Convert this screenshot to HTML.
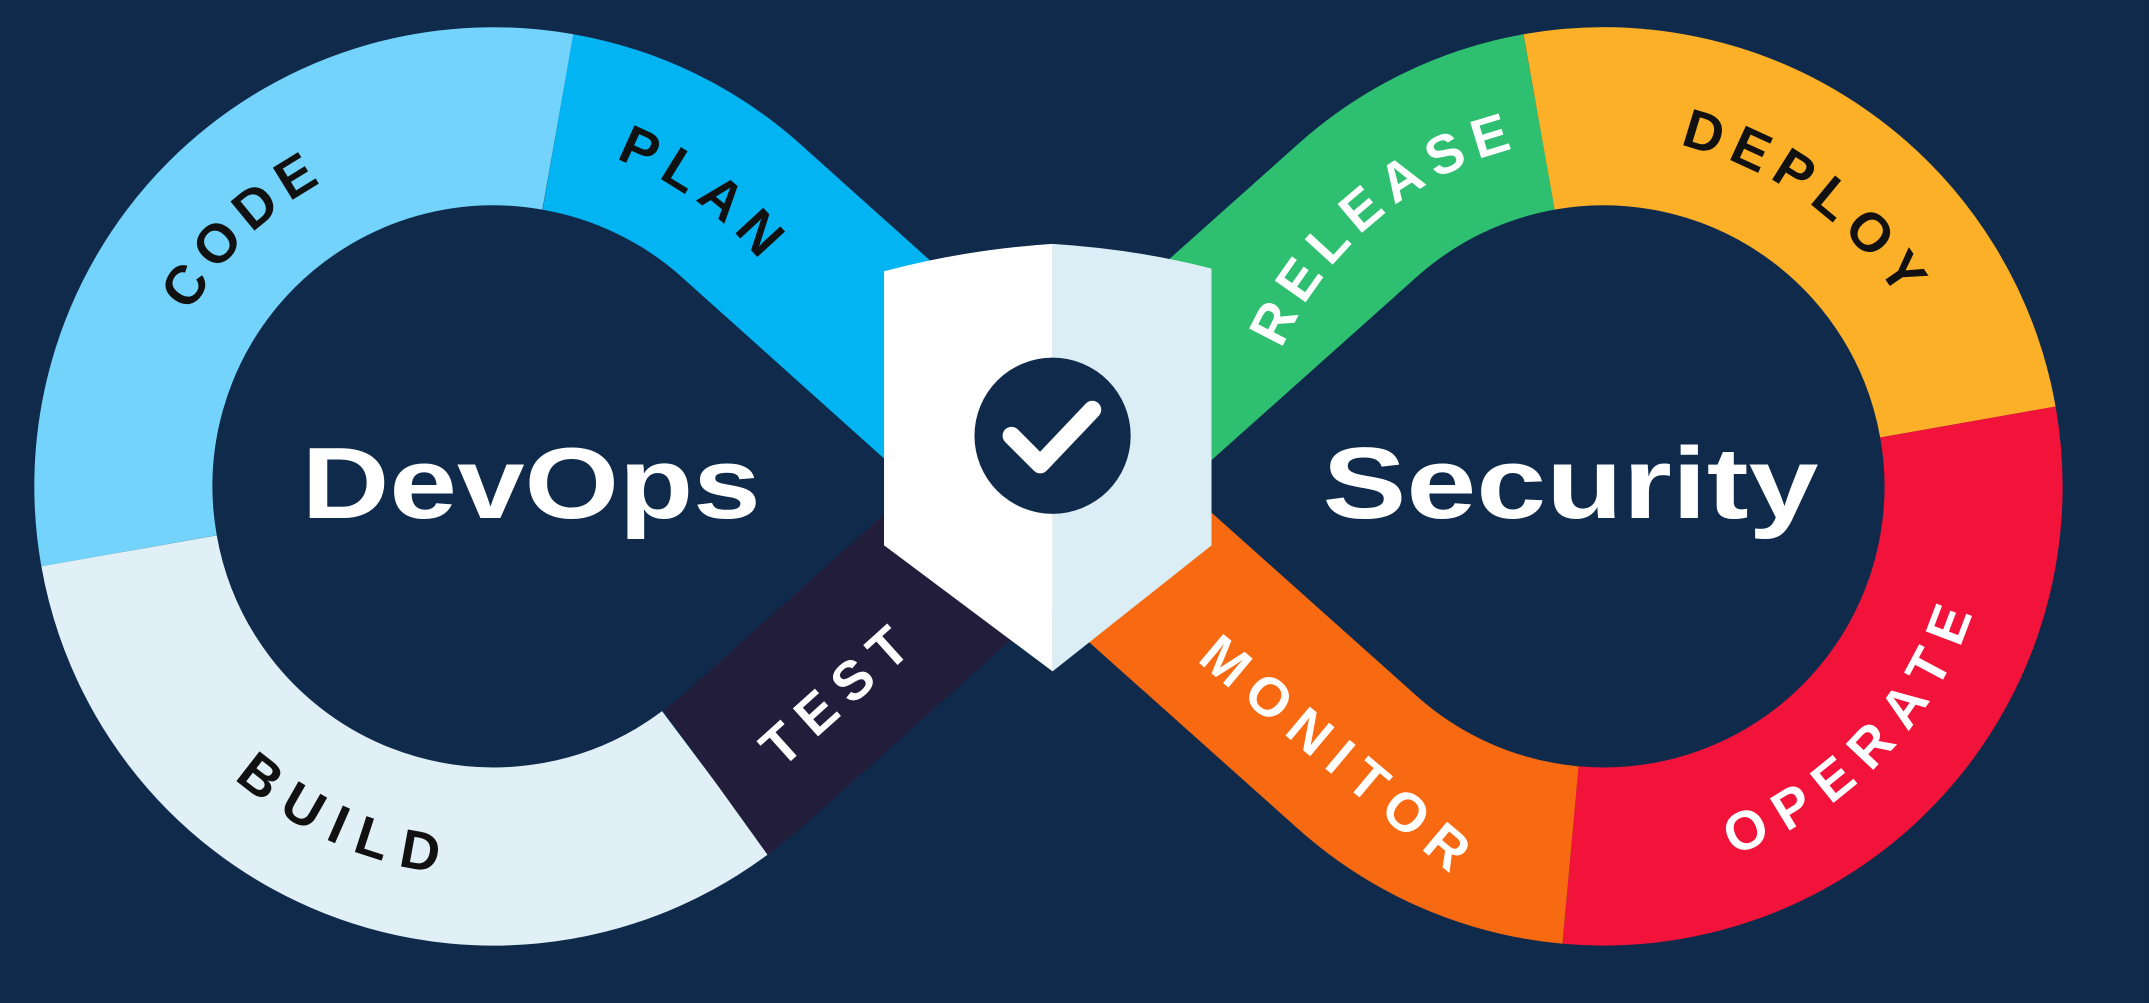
<!DOCTYPE html>
<html><head><meta charset="utf-8"><style>
html,body{margin:0;padding:0;background:#0f2a4b;}
svg{display:block;}
text{font-family:"Liberation Sans",sans-serif;font-weight:bold;}
</style></head><body>
<svg width="2149" height="1003" viewBox="0 0 1568 732" xmlns="http://www.w3.org/2000/svg">
<rect width="1568" height="732" fill="#0f2a4b"/>
<defs>
<path id="c1cw" d="M90,355 A270,270 0 1 1 630,355 A270,270 0 1 1 90,355"/>
<path id="c1ccw" d="M90,355 A270,270 0 1 0 630,355 A270,270 0 1 0 90,355"/>
<path id="c2cw" d="M900,355 A270,270 0 1 1 1440,355 A270,270 0 1 1 900,355"/>
<path id="c2ccw" d="M900,355 A270,270 0 1 0 1440,355 A270,270 0 1 0 900,355"/>
</defs>
<g fill="none" stroke-width="130">
<path d="M522,571 A270,270 0 0 1 94,402" stroke="#e1f0f6"/>
<path d="M94,402 A270,270 0 0 1 407,89" stroke="#74d3fb"/>
<path d="M765,355 L541,556 A270,270 0 0 1 522,571" stroke="#221d3b"/>
<path d="M1123,89 A270,270 0 0 1 1436,308" stroke="#fbb027"/>
<path d="M1436,308 A270,270 0 0 1 1146,624" stroke="#f2133a"/>
<path d="M1146,624 A270,270 0 0 1 990,556 L765,355" stroke="#f86a12"/>
<path d="M407,89 A270,270 0 0 1 541,154 L765,355" stroke="#03b4f2"/>
<path d="M765,355 L990,154 A270,270 0 0 1 1123,89" stroke="#2ec070"/>
</g>
<g font-size="40" letter-spacing="9">
<text fill="#111" dy="15" text-anchor="middle"><textPath href="#c1cw" startOffset="12.8%">CODE</textPath></text>
<text fill="#111" dy="15" text-anchor="middle"><textPath href="#c1cw" startOffset="35%">PLAN</textPath></text>
<text fill="#111" dy="15" text-anchor="middle"><textPath href="#c1ccw" startOffset="18.3%">BUILD</textPath></text>
<text fill="#fff" dy="15" text-anchor="middle"><textPath href="#c2cw" startOffset="13.9%">RELEASE</textPath></text>
<text fill="#111" dy="15" text-anchor="middle"><textPath href="#c2cw" startOffset="35%">DEPLOY</textPath></text>
<text fill="#fff" dy="15" text-anchor="middle"><textPath href="#c2ccw" startOffset="37.8%">OPERATE</textPath></text>
<text fill="#fff" text-anchor="middle" transform="translate(612,505) rotate(-42)" dy="14">TEST</text>
<text fill="#fff" text-anchor="middle" transform="translate(978,552) rotate(40)" dy="14">MONITOR</text>
</g>
<text x="220" y="378" font-size="74" fill="#fff" textLength="335" lengthAdjust="spacingAndGlyphs">DevOps</text>
<text x="965" y="378" font-size="74" fill="#fff" textLength="362" lengthAdjust="spacingAndGlyphs">Security</text>
<path d="M645,198 Q705,182 768,178 L768,490 L645,398 Z" fill="#ffffff"/>
<path d="M768,178 Q830,182 884,196 L884,398 L768,490 Z" fill="#dbeef5"/>
<circle cx="768" cy="318" r="57" fill="#0f2a4b"/>
<polyline points="738,318 759,339 797,299" fill="none" stroke="#fff" stroke-width="13" stroke-linecap="round" stroke-linejoin="round"/>
</svg>
</body></html>
